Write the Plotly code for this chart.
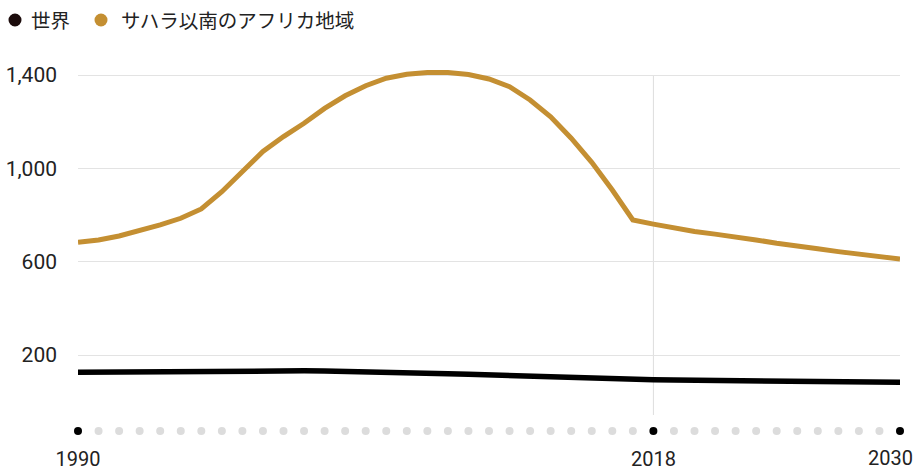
import plotly.graph_objects as go

# Years 1990-2030
years = list(range(1990, 2031))

# Maternal mortality ratio (per 100,000 live births)
world = [126, 127, 128, 129, 130, 130, 131, 131, 132, 132,
         132, 132, 131, 130, 128, 127, 125, 123, 120, 117,
         114, 112, 110, 108, 105, 102, 99, 96, 94, 93,
         92, 91, 90, 89, 88, 87, 86, 86, 85, 84, 83]
ssa = [683, 693, 710, 732, 758, 786, 826, 900, 986, 1072,
       1136, 1193, 1257, 1311, 1354, 1386, 1403, 1411, 1411, 1402,
       1383, 1350, 1293, 1221, 1129, 1026, 907, 779, 761, 743,
       729, 718, 703, 693, 679, 669, 655, 643, 633, 622, 611]

series_names = ["世界", "サハラ以南のアフリカ地域"]
series_colors = ["#1c0c0c", "#C48F32"]

y_ticks = [200, 600, 1000, 1400]
x_ticks = [1990, 2018]
x_end_label = 2030
highlight_years = [1990, 2018, 2030]

num_font = "Roboto, sans-serif"
jp_font = "Noto Sans CJK JP, sans-serif"

# plot-area geometry in pixels
W, H = 920, 470
ML, MR, MT, MB = 78, 20, 60, 25
PW, PH = W - ML - MR, H - MT - MB


def px_x(px):
    return (px - ML) / PW


def px_y(py):
    return (H - MB - py) / PH


fig = go.Figure()

# main lines
fig.add_trace(go.Scatter(x=years, y=world, mode="lines",
                         line=dict(color="#000000", width=5.5),
                         showlegend=False, hoverinfo="skip"))
fig.add_trace(go.Scatter(x=years, y=ssa, mode="lines",
                         line=dict(color=series_colors[1], width=5),
                         showlegend=False, hoverinfo="skip"))

# timeline dots along the bottom
dot_colors = ["#000000" if y in highlight_years else "#dcdcdc" for y in years]
fig.add_trace(go.Scatter(x=years, y=[px_y(431)] * len(years), mode="markers",
                         marker=dict(color=dot_colors, size=8, line=dict(width=0)),
                         yaxis="y2", showlegend=False, hoverinfo="skip",
                         cliponaxis=False))

# vertical reference line at 2018
fig.add_shape(type="line", x0=2018, x1=2018, y0=-57, y1=1400,
              xref="x", yref="y", line=dict(color="#dddddd", width=1),
              layer="below")

# last year label, pulled in from the right edge
fig.add_annotation(text=str(x_end_label), x=x_end_label, xref="x",
                   y=px_y(458), yref="paper", xanchor="right", yanchor="middle",
                   xshift=14, showarrow=False, borderpad=0,
                   font=dict(family=num_font, size=20, color="#222222"))

# legend: coloured dots with labels
legend_dot_px = [15, 101]
legend_text_px = [29, 119]
for name, col, dx, tx in zip(series_names, series_colors, legend_dot_px, legend_text_px):
    fig.add_shape(type="circle", xref="paper", yref="paper",
                  xsizemode="pixel", ysizemode="pixel",
                  xanchor=px_x(dx), yanchor=px_y(20),
                  x0=-6.5, x1=6.5, y0=-6.5, y1=6.5,
                  fillcolor=col, line=dict(width=0))
    fig.add_annotation(text=name, xref="paper", yref="paper",
                       x=px_x(tx), y=px_y(20), xanchor="left", yanchor="middle",
                       showarrow=False,
                       font=dict(family=jp_font, size=19.5, color="#222222"))

fig.update_layout(
    width=W, height=H,
    margin=dict(l=ML, r=MR, t=MT, b=MB),
    paper_bgcolor="white", plot_bgcolor="white",
    showlegend=False,
    xaxis=dict(range=[1990, 2030], tickvals=x_ticks,
               ticktext=[str(v) for v in x_ticks],
               showgrid=False, zeroline=False, showline=False,
               ticks="", ticklabelstandoff=0, automargin=False,
               ticklabeloverflow="allow",
               tickfont=dict(family=num_font, size=20, color="#222222")),
    yaxis=dict(range=[-185.7, 1464.3], tickvals=y_ticks, tickformat=",",
               showgrid=True, gridcolor="#e3e3e3", gridwidth=1,
               zeroline=False, showline=False, ticks="",
               ticklabelstandoff=20, automargin=False,
               ticklabeloverflow="allow",
               tickfont=dict(family=num_font, size=21, color="#222222")),
    yaxis2=dict(range=[0, 1], overlaying="y", domain=[0, 1],
                showgrid=False, zeroline=False, showticklabels=False,
                anchor="x", automargin=False),
)

fig.write_html("out.html")
